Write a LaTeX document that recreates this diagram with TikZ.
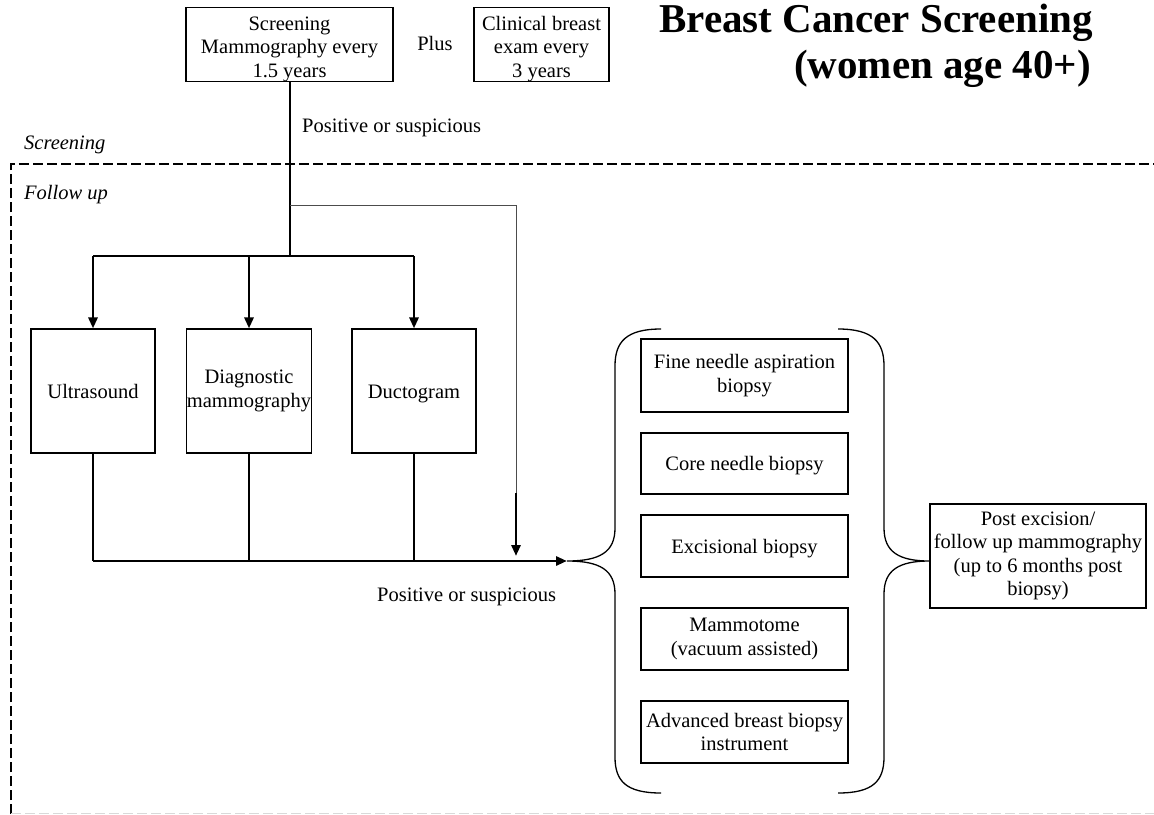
\documentclass[tikz,border=0pt]{standalone}
\usepackage{fontspec}
\setmainfont{Liberation Serif}
\usetikzlibrary{arrows.meta}
\begin{document}
\begin{tikzpicture}[x=1pt,y=-1pt,
  box/.style={draw, line width=1.1pt, align=center, inner sep=0pt, font=\fontsize{20.5}{23.5}\selectfont},
  one/.style={text height=14pt, text depth=0pt},
  lbl/.style={inner sep=0pt, font=\fontsize{20.5}{24}\selectfont},
  ilbl/.style={inner sep=0pt, font=\fontsize{20.5}{24}\selectfont\itshape},
  ttl/.style={inner sep=0pt, font=\fontsize{41}{46}\selectfont\bfseries},
  heavy/.style={line width=2.8pt},
  thinline/.style={line width=1pt, black!70},
  arr/.style={-{Triangle[length=11pt,width=9pt]}},
  brace/.style={line width=1.3pt},
  frame/.style={line width=2pt, dash pattern=on 10pt off 4pt}
]
\useasboundingbox (0,0) rectangle (1154,814);

% title
\node[ttl, anchor=base east] (t1) at (1093,32) {Breast Cancer Screening};
\node[ttl, anchor=base east] (t2) at (1091,78) {(women age 40+)};

% screening section
\node[box, minimum width=207pt, minimum height=73pt] (sm) at (289.5,44.5) {\rule{0pt}{23pt}Screening\\Mammography every\\1.5 years};
\node[lbl] (plus) at (435,43) {Plus};
\node[box, minimum width=135pt, minimum height=73pt] (cb) at (541.5,44.5) {\rule{0pt}{23pt}Clinical breast\\exam every\\3 years};
\node[lbl, anchor=west] (pos1) at (302,128) {Positive or suspicious};
\node[ilbl, anchor=west] (lscr) at (24,145) {Screening};
\node[ilbl, anchor=west] (lfol) at (24,195) {Follow up};

% frame
\coordinate (f1) at (11,164);
\coordinate (f2) at (1154,164);
\coordinate (f3) at (11,814);
\coordinate (f4) at (11,813);
\coordinate (f5) at (1154,813);
\draw[frame] (f3) -- (f1) -- (f2);
\draw[line width=1pt, black!15, dash pattern=on 10pt off 4pt] (f4) -- (f5);

% follow-up boxes
\node[box, one, minimum width=124pt, minimum height=124pt] (us) at (93,391) {Ultrasound};
\node[box, minimum width=124pt, minimum height=124pt] (dm) at (249,391) {Diagnostic\\mammography};
\node[box, one, minimum width=124pt, minimum height=124pt] (dg) at (414,391) {Ductogram};

% connectors from screening
\coordinate (bj) at (290,256);
\coordinate (tj) at (290,205);
\coordinate (b1) at (93,256);
\coordinate (b3) at (414,256);
\coordinate (c1) at (516,205);
\coordinate (c2) at (516,493);
\coordinate (c3) at (516,556);
\draw[heavy] (sm.south -| bj) -- (bj);
\draw[heavy] (b1) -- (b3);
\draw[heavy, arr] (b1) -- (us.north);
\draw[heavy, arr] (dm.north |- bj) -- (dm.north);
\draw[heavy, arr] (b3) -- (dg.north);
\draw[thinline] (tj) -- (c1) -- (c2);
\draw[heavy, arr] (c2) -- (c3);

% bottom collector
\coordinate (d1) at (93,561);
\coordinate (d2) at (249,561);
\coordinate (d3) at (414,561);
\coordinate (tip) at (567,561);
\draw[heavy] (us.south) -- (d1);
\draw[heavy] (dm.south) -- (d2);
\draw[heavy] (dg.south) -- (d3);
\draw[heavy, arr] (d1) -- (tip);
\node[lbl, anchor=west] (pos2) at (377,597) {Positive or suspicious};

% biopsy boxes
\node[box, minimum width=207pt, minimum height=73pt] (fn) at (744.5,375.5) {Fine needle aspiration\\biopsy};
\node[box, one, minimum width=207pt, minimum height=61pt] (cn) at (744.5,463.5) {Core needle biopsy};
\node[box, one, minimum width=207pt, minimum height=62pt] (ex) at (744.5,546) {Excisional biopsy};
\node[box, minimum width=207pt, minimum height=62pt] (mt) at (744.5,639) {Mammotome\\(vacuum assisted)};
\node[box, minimum width=207pt, minimum height=62pt] (ab) at (744.5,732) {Advanced breast biopsy\\instrument};

% post box
\node[box, minimum width=216pt, minimum height=104pt] (pe) at (1038,556) {Post excision/\\follow up mammography\\(up to 6 months post\\biopsy)};

% left brace
\coordinate (lbt) at (661,329);
\coordinate (lbb) at (661,793);
\draw[brace] (lbt) .. controls (626,329) and (615,342) .. (615,366)
  -- (615,528) .. controls (615,552) and (600,561) .. (tip)
  .. controls (600,561) and (615,570) .. (615,594)
  -- (615,757) .. controls (615,781) and (626,793) .. (lbb);

% right brace
\coordinate (rbt) at (838,329);
\coordinate (rbb) at (838,793);
\coordinate (rtip) at (pe.west |- tip);
\draw[brace] (rbt) .. controls (873,329) and (884,342) .. (884,366)
  -- (884,528) .. controls (884,552) and (899,561) .. (rtip)
  .. controls (899,561) and (884,570) .. (884,594)
  -- (884,757) .. controls (884,781) and (873,793) .. (rbb);
\end{tikzpicture}
\end{document}
